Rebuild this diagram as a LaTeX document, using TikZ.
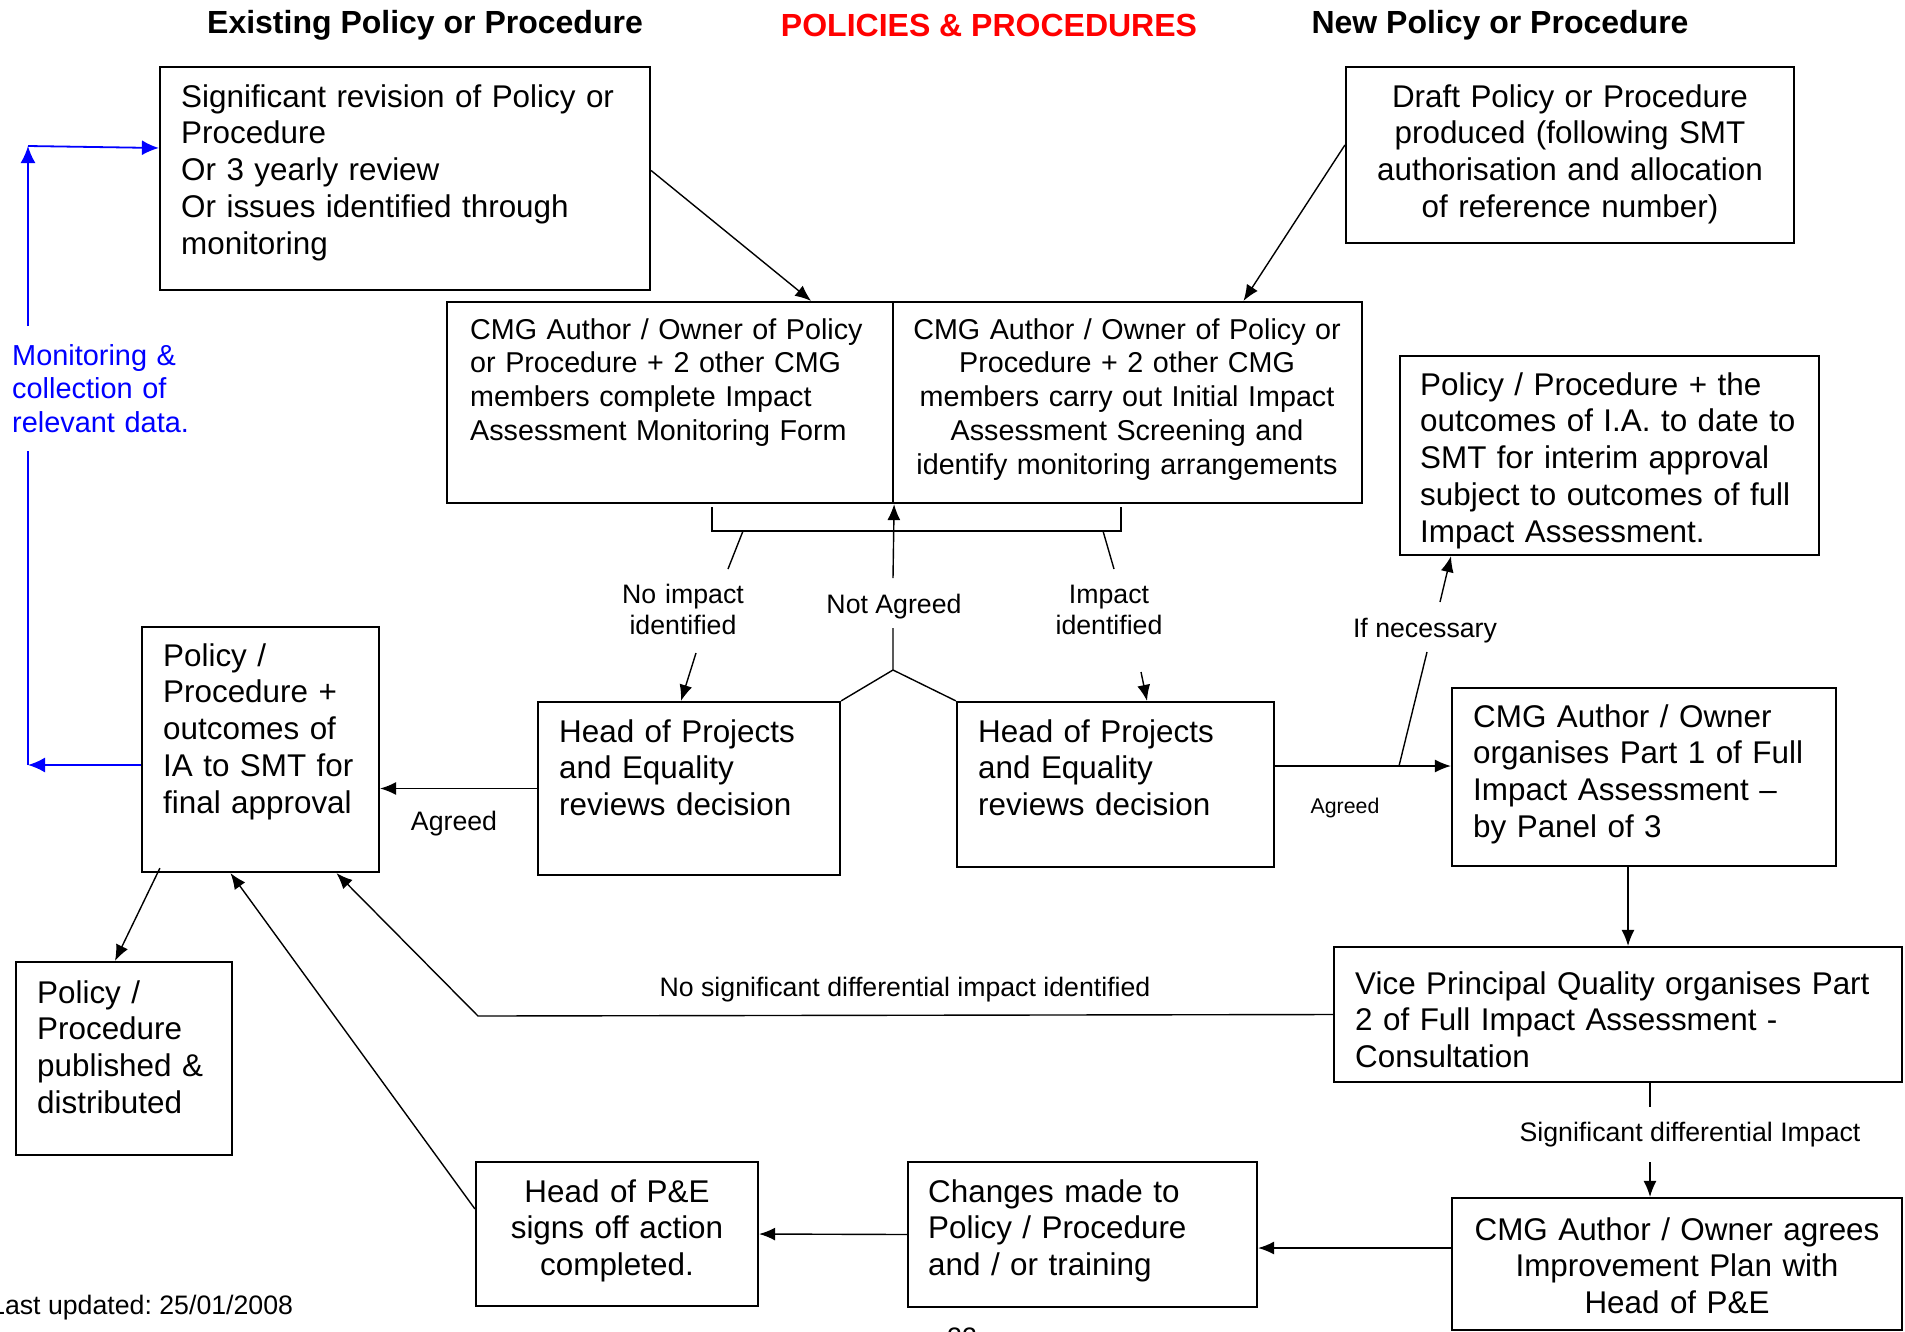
\documentclass[tikz,border=0pt]{standalone}
\usepackage{fontspec}
\setmainfont{Liberation Sans}
\usetikzlibrary{arrows.meta,calc,fit}
\frenchspacing

\begin{document}
\begin{tikzpicture}[
  x=1pt,
  y=-1pt,
  box/.style={draw, line width=2.2pt, inner sep=0pt},
  txt/.style={
    inner sep=0pt,
    align=left,
    anchor=base west,
    font=\fontsize{31.4}{36.8}\selectfont
  },
  ctxt/.style={txt, align=center, anchor=base},
  cmgfont/.style={font=\fontsize{28.7}{33.8}\selectfont},
  lbl/.style={
    inner sep=0pt,
    align=center,
    anchor=base,
    font=\fontsize{26.7}{31}\selectfont
  },
  hdr/.style={inner sep=0pt, anchor=base, font=\bfseries\fontsize{32}{36.8}\selectfont},
  conn/.style={line width=1.4pt},
  arr/.style={conn, -{Latex[length=16pt,width=13pt]}},
  mon/.style={draw=blue, color=blue, line width=1.8pt},
  monarr/.style={mon, -{Latex[length=17pt,width=15pt]}}
]
  \useasboundingbox (0,0) rectangle (1905,1331);

  % headings
  \node[hdr] (hdr-old) at (425,33) {Existing Policy or Procedure};
  \node[hdr, text=red] (hdr-title) at (989,36) {POLICIES \& PROCEDURES};
  \node[hdr] (hdr-new) at (1500,33) {New Policy or Procedure};

  % boxes
  \node[box, fit={(160,67) (650,290)}] (sig) {};
  \node[box, fit={(1346,67) (1794,243)}] (draft) {};
  \node[box, fit={(447,302) (893,503)}] (cmgL) {};
  \node[box, fit={(893,302) (1362,503)}] (cmgR) {};
  \node[box, fit={(1400,356) (1819,555)}] (interim) {};
  \node[box, fit={(142,627) (379,872)}] (final) {};
  \node[box, fit={(538,702) (840,875)}] (hpeL) {};
  \node[box, fit={(957,702) (1274,867)}] (hpeR) {};
  \node[box, fit={(1452,688) (1836,866)}] (part1) {};
  \node[box, fit={(1334,947) (1902,1082)}] (part2) {};
  \node[box, fit={(16,962) (232,1155)}] (pub) {};
  \node[box, fit={(476,1162) (758,1306)}] (signoff) {};
  \node[box, fit={(908,1162) (1257,1307)}] (changes) {};
  \node[box, fit={(1452,1198) (1902,1330)}] (plan) {};

  % box texts
  \node[txt, text width=460pt] (sig-t) at (181,107)
    {Significant revision of Policy or\\Procedure\\Or 3 yearly review\\Or issues identified through\\monitoring};
  \node[ctxt, text width=440pt] (draft-t) at (1570,107)
    {Draft Policy or Procedure\\produced (following SMT\\authorisation and allocation\\of reference number)};
  \node[txt, cmgfont, text width=420pt] (cmgL-t) at (470,339)
    {CMG Author / Owner of Policy\\or Procedure + 2 other CMG\\members complete Impact\\Assessment Monitoring Form};
  \node[ctxt, cmgfont, text width=465pt] (cmgR-t) at (1127,339)
    {CMG Author / Owner of Policy or\\Procedure + 2 other CMG\\members carry out Initial Impact\\Assessment Screening and\\identify monitoring arrangements};
  \node[txt, text width=395pt] (interim-t) at (1420,395)
    {Policy / Procedure + the\\outcomes of I.A. to date to\\SMT for interim approval\\subject to outcomes of full\\Impact Assessment.};
  \node[txt, text width=214pt] (final-t) at (163,666)
    {Policy /\\Procedure +\\outcomes of\\IA to SMT for\\final approval};
  \node[txt, text width=275pt] (hpeL-t) at (559,742)
    {Head of Projects\\and Equality\\reviews decision};
  \node[txt, text width=290pt] (hpeR-t) at (978,742)
    {Head of Projects\\and Equality\\reviews decision};
  \node[txt, text width=360pt] (part1-t) at (1473,727)
    {CMG Author / Owner\\organises Part 1 of Full\\Impact Assessment –\\by Panel of 3};
  \node[txt, text width=545pt] (part2-t) at (1355,994)
    {Vice Principal Quality organises Part\\2 of Full Impact Assessment -\\Consultation};
  \node[txt, text width=190pt] (pub-t) at (37,1003)
    {Policy /\\Procedure\\published \&\\distributed};
  \node[ctxt, text width=270pt] (signoff-t) at (617,1202)
    {Head of P\&E\\signs off action\\completed.};
  \node[txt, text width=325pt] (changes-t) at (928,1202)
    {Changes made to\\Policy / Procedure\\and / or training};
  \node[ctxt, text width=440pt] (plan-t) at (1677,1240)
    {CMG Author / Owner agrees\\Improvement Plan with\\Head of P\&E};

  % into the assessment
  \draw[arr] ($(sig.east)+(0,-8)$) -- ($(cmgL.north east)+(-83,0)$);
  \draw[arr] ($(draft.west)+(0,-10)$) -- ($(cmgR.north)+(116,0)$);

  % bracket under the assessment
  \coordinate (brL) at (712,531);
  \coordinate (brR) at (1121,531);
  \draw[conn] ($(brL)+(0,-24)$) -- (brL) -- (brR) -- ($(brR)+(0,-24)$);

  % not agreed
  \node[lbl] (notag) at (894,613) {Not Agreed};
  \coordinate (notag-up) at (893,578);
  \coordinate (notag-dn) at (893,628);
  \coordinate (split) at (893,670);
  \draw[arr] (notag-up) -- (cmgL.south east);
  \draw[conn] (notag-dn) -- (split) -- (hpeL.north east);
  \draw[conn] (split) -- (hpeR.north west);

  % no impact
  \node[lbl, text width=140pt] (noimp) at (683,603) {No impact\\identified};
  \coordinate (noimp-a) at (743,531);
  \coordinate (noimp-b) at (728,569);
  \coordinate (noimp-c) at (696,653);
  \draw[conn] (noimp-a) -- (noimp-b);
  \draw[arr] (noimp-c) -- (hpeL.north -| 681,0);

  % impact
  \node[lbl, text width=140pt] (impid) at (1109,603) {Impact\\identified};
  \coordinate (impid-a) at (1103,531);
  \coordinate (impid-b) at (1114,569);
  \coordinate (impid-c) at (1141,672);
  \draw[conn] (impid-a) -- (impid-b);
  \draw[arr] (impid-c) -- (hpeR.north -| 1147,0);

  % agreed
  \draw[arr] (hpeL.west) -- (final.east |- hpeL.west);
  \node[lbl] (agreedL) at (454,830) {Agreed};
  \coordinate (ifnec-a) at (1399,766);
  \coordinate (ifnec-b) at (1427,652);
  \coordinate (ifnec-c) at (1440,602);
  \draw[conn] (hpeR.east |- ifnec-a) -- (ifnec-a);
  \draw[arr] (ifnec-a) -- (part1.west |- ifnec-a);
  \node[lbl, font=\fontsize{21.3}{24.5}\selectfont] (agreedR) at (1345,813) {Agreed};
  \draw[conn] (ifnec-a) -- (ifnec-b);
  \node[lbl] (ifnec) at (1425,637) {If necessary};
  \draw[arr] (ifnec-c) -- (interim.south -| 1451,0);

  % full impact assessment
  \draw[arr] (part1.south -| 1628,0) -- (part2.north -| 1628,0);
  \coordinate (sigimp-a) at (1650,1107);
  \coordinate (sigimp-b) at (1650,1162);
  \draw[conn] (part2.south -| sigimp-a) -- (sigimp-a);
  \node[lbl] (sigimp) at (1690,1141) {Significant differential Impact};
  \draw[arr] (sigimp-b) -- (plan.north -| sigimp-b);
  \draw[arr] (plan.west |- 0,1248) -- (changes.east |- 0,1248);
  \draw[arr] (changes.west) -- (signoff.east);
  \draw[arr] ($(signoff.north west)+(0,48)$) -- ($(final.south)+(-30,0)$);

  % no significant impact
  \coordinate (nosig-bend) at (478,1016);
  \draw[arr] (part2.west) -- (nosig-bend) -- ($(final.south)+(76,0)$);
  \node[lbl] (nosig) at (905,996) {No significant differential impact identified};

  % publish
  \draw[arr] ($(final.south west)+(19,-5)$) -- ($(pub.north)+(-9,0)$);

  % monitoring loop
  \node[txt, font=\fontsize{28.9}{33.8}\selectfont, text=blue, text width=200pt] (mon) at (12,365)
    {Monitoring \&\\collection of\\relevant data.};
  \coordinate (mon-top) at (28,146);
  \coordinate (mon-a) at (28,326);
  \coordinate (mon-b) at (28,451);
  \coordinate (mon-bot) at (28,765);
  \draw[monarr] (final.west |- mon-bot) -- (mon-bot);
  \draw[mon] (mon-bot) -- (mon-b);
  \draw[monarr] (mon-a) -- (mon-top);
  \draw[monarr] (mon-top) -- (sig.west |- 0,148);

  % footer
  \node[lbl, anchor=base west] (updated) at (-10,1314) {Last updated: 25/01/2008};
  \node[lbl] (pageno) at (962,1346) {22};
\end{tikzpicture}
\end{document}
